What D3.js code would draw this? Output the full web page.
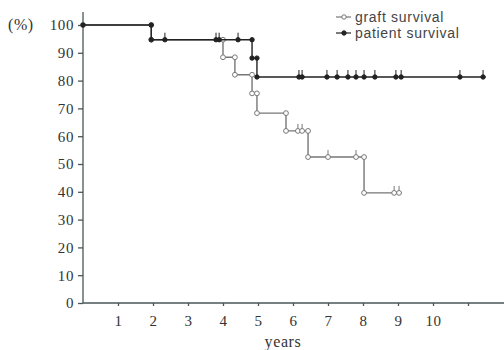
<!DOCTYPE html>
<html>
<head>
    <script src="https://cdnjs.cloudflare.com/ajax/libs/d3/7.8.5/d3.min.js"></script>
    <style>
        body, html {
            margin: 0;
            padding: 0;
            background: #fff;
        }
        svg {
            display: block;
        }
        .axis text {
            font-family: "Liberation Serif", serif;
            font-size: 15px;
            letter-spacing: 0.6px;
            fill: #333;
        }
        .axis path, .axis line {
            stroke: #4a5656;
            stroke-width: 1.3px;
        }
        .legend text {
            font-family: "Liberation Sans", Arial, sans-serif;
            font-size: 14px;
            letter-spacing: 0.7px;
            fill: #444;
        }
    </style>
</head>
<body>
    <svg></svg>
    <script>
        // event times (years) and survival (%)
        const graftTimes = [0, 1.95, 4.0, 4.34, 4.83, 4.97, 5.8, 6.43, 8.03];
        const graftSurv = [100, 94.7, 88.4, 82.1, 75.4, 68.3, 61.9, 52.5, 39.6];
        const graftEnd = 9.11;
        const graftCensored = [6.14, 6.26, 7.0, 7.8, 8.89, 9.03];

        const patientTimes = [0, 1.95, 4.83, 4.97];
        const patientSurv = [100, 94.7, 88.1, 81.3];
        const patientEnd = 11.5;
        const patientCensored = [2.34, 3.8, 3.89, 4.43, 6.17, 6.26, 6.97, 7.26, 7.57, 7.8, 8.03, 8.34, 8.94, 9.09, 10.77, 11.43];

        const xTicks = [1, 2, 3, 4, 5, 6, 7, 8, 9, 10, 11];
        const yTicks = [0, 10, 20, 30, 40, 50, 60, 70, 80, 90, 100];

        const width = 504, height = 350;
        const svg = d3.select("svg").attr("width", width).attr("height", height);

        const x = d3.scaleLinear().domain([0, 12]).range([83, 503]);
        const y = d3.scaleLinear().domain([0, 100]).range([303, 25]);

        // axes
        const yAxis = svg.append("g")
            .attr("class", "axis")
            .attr("transform", `translate(${x(0)},0)`)
            .call(d3.axisLeft(y).tickValues(yTicks).tickSize(5).tickSizeOuter(0).tickPadding(4));
        yAxis.select(".domain").attr("d", `M0,${y(0)}V12`);

        const xAxis = svg.append("g")
            .attr("class", "axis")
            .attr("transform", `translate(0,${y(0)})`)
            .call(d3.axisBottom(x).tickValues(xTicks).tickSize(3).tickSizeOuter(0).tickPadding(9)
                .tickFormat(d => d <= 10 ? d : ""));
        xAxis.select(".domain").attr("d", `M${x(0)},0H${width}`);

        svg.append("text")
            .attr("x", 8).attr("y", y(100) + 5)
            .style("font-family", "Liberation Serif, serif")
            .style("font-size", "16px").style("letter-spacing", "0.6px").style("fill", "#333")
            .text("(%)");

        svg.append("text")
            .attr("x", 283).attr("y", 347)
            .attr("text-anchor", "middle")
            .style("font-family", "Liberation Serif, serif")
            .style("font-size", "16px").style("letter-spacing", "0.6px").style("fill", "#333")
            .text("years");

        function survAt(times, surv, t) {
            let v = surv[0];
            for (let i = 0; i < times.length; i++) if (times[i] <= t) v = surv[i];
            return v;
        }

        function drawCurve(times, surv, end, censored, color, filled) {
            const pts = times.map((t, i) => [t, surv[i]]);
            pts.push([end, surv[surv.length - 1]]);
            const line = d3.line().x(d => x(d[0])).y(d => y(d[1])).curve(d3.curveStepAfter);
            svg.append("path")
                .datum(pts)
                .attr("d", line)
                .attr("fill", "none")
                .attr("stroke", color)
                .attr("stroke-width", 1.4);

            // markers at both corners of each step
            const corners = [];
            for (let i = 1; i < times.length; i++) {
                corners.push([times[i], surv[i - 1]]);
                corners.push([times[i], surv[i]]);
            }
            corners.push([0, 100]);
            svg.append("g").selectAll("circle")
                .data(corners)
                .join("circle")
                .attr("cx", d => x(d[0]))
                .attr("cy", d => y(d[1]))
                .attr("r", filled ? 2.2 : 2.4)
                .attr("fill", filled ? color : "#fff")
                .attr("stroke", color)
                .attr("stroke-width", 1);

            // censor ticks
            const cg = svg.append("g").selectAll("g")
                .data(censored)
                .join("g")
                .attr("transform", d => `translate(${x(d)},${y(survAt(times, surv, d))})`);
            cg.append("line")
                .attr("y1", -7).attr("y2", 0)
                .attr("stroke", color).attr("stroke-width", 1);
            cg.append("circle")
                .attr("r", filled ? 2.2 : 2.4)
                .attr("fill", filled ? color : "#fff")
                .attr("stroke", color)
                .attr("stroke-width", 1);
        }

        drawCurve(graftTimes, graftSurv, graftEnd, graftCensored, "#777", false);
        drawCurve(patientTimes, patientSurv, patientEnd, patientCensored, "#222", true);

        // legend
        const legendItems = [
            { label: "graft survival", color: "#777", filled: false },
            { label: "patient survival", color: "#222", filled: true }
        ];
        const lg = svg.append("g").attr("class", "legend")
            .selectAll("g")
            .data(legendItems)
            .join("g")
            .attr("transform", (d, i) => `translate(336,${17 + i * 16})`);
        lg.append("line")
            .attr("x1", 0).attr("x2", 15)
            .attr("stroke", d => d.color).attr("stroke-width", 1.2);
        lg.append("circle")
            .attr("cx", 8).attr("r", 2.2)
            .attr("fill", d => d.filled ? d.color : "#fff")
            .attr("stroke", d => d.color);
        lg.append("text")
            .attr("x", 19).attr("y", 5)
            .text(d => d.label);
    </script>
</body>
</html>
